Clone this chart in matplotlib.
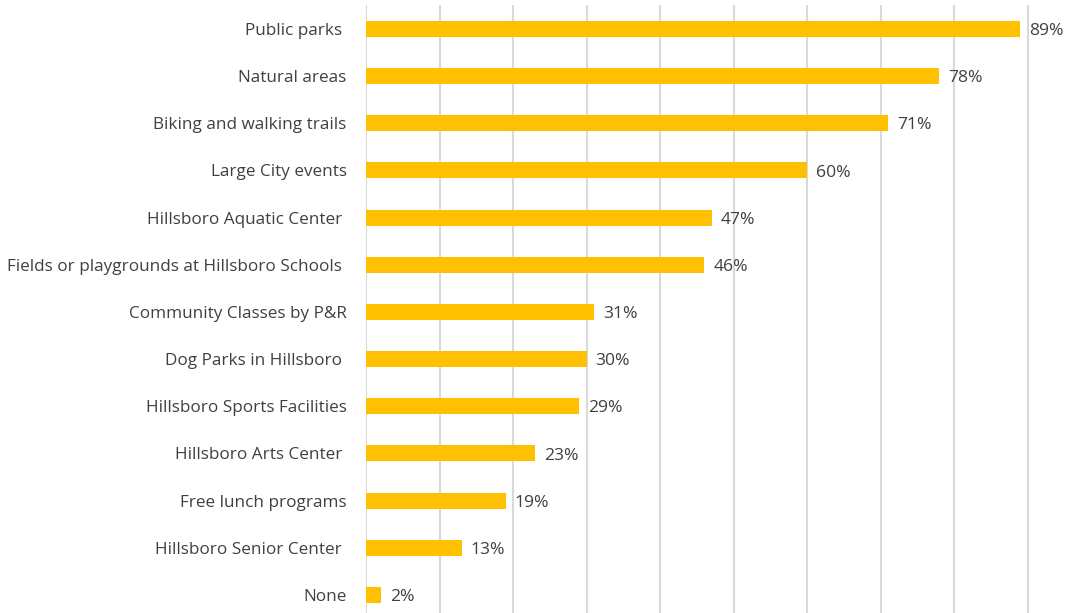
import matplotlib.pyplot as plt

# data (top to bottom as shown)
categories = ["Public parks ", "Natural areas", "Biking and walking trails",
              "Large City events", "Hillsboro Aquatic Center ",
              "Fields or playgrounds at Hillsboro Schools ",
              "Community Classes by P&R", "Dog Parks in Hillsboro ",
              "Hillsboro Sports Facilities", "Hillsboro Arts Center ",
              "Free lunch programs", "Hillsboro Senior Center ", "None"]
values = [0.89, 0.78, 0.71, 0.60, 0.47, 0.46, 0.31, 0.30, 0.29, 0.23, 0.19, 0.13, 0.02]

plt.rcParams['font.family'] = ['Open Sans', 'DejaVu Sans']

fig = plt.figure(figsize=(10.68, 6.13), dpi=100)
ax = fig.add_axes([0.3427, -0.009, 0.6540, 1.0003])

ypos = list(range(len(categories)))
ax.barh(ypos, values, height=0.34, color='#FFC000', zorder=3)

for y, v in zip(ypos, values):
    ax.annotate(f"{round(v*100)}%", (v, y), xytext=(6.5, -1.5), textcoords='offset points',
                va='center', ha='left', fontsize=12.6, color='#404040')

ax.set_yticks(ypos)
ax.set_yticklabels(categories, fontsize=12.3, color='#404040')
ax.tick_params(axis='y', length=0, pad=14)
ax.set_ylim(len(categories) - 0.5, -0.5)

ax.set_xlim(0, 0.95)
ax.set_xticks([i / 10 for i in range(10)])
ax.tick_params(axis='x', length=0, labelbottom=False)
ax.grid(axis='x', color='#D9D9D9', linewidth=1.5, zorder=0)

for s in ax.spines.values():
    s.set_visible(False)

plt.savefig('out.png', dpi=100)
